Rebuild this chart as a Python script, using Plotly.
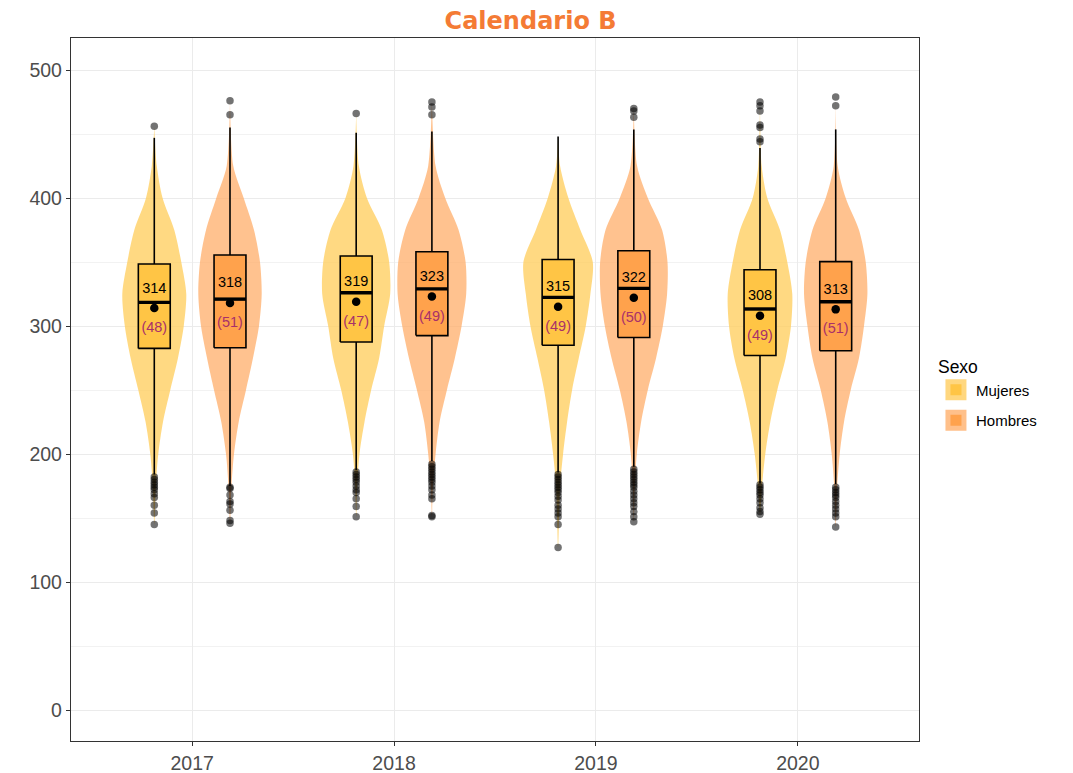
import plotly.graph_objects as go

years = ["2017", "2018", "2019", "2020"]
sexes = ["Mujeres", "Hombres"]

# order per sex: 2017, 2018, 2019, 2020
q1 = {"Mujeres": [282.5, 287.5, 285, 277], "Hombres": [283, 292.5, 291, 280.7]}
median = {"Mujeres": [318.5, 326, 322.4, 313.3], "Hombres": [321, 329, 329.4, 319]}
q3 = {"Mujeres": [348.4, 354.7, 352, 344], "Hombres": [355.5, 358, 358.8, 350.3]}
lo_whisk = {"Mujeres": [184, 187.5, 185.5, 177], "Hombres": [175, 194.5, 190, 176.5]}
hi_whisk = {"Mujeres": [447, 451, 448, 439], "Hombres": [455, 452, 453.6, 453.6]}
mean = {"Mujeres": [314, 319, 315, 308], "Hombres": [318, 323, 322, 313]}
sd = {"Mujeres": [48, 47, 49, 49], "Hombres": [51, 49, 50, 51]}

outliers = {
    "Mujeres": [
        [456, 182, 180, 178, 176, 174, 172, 169, 166, 160, 154, 145],
        [466, 186, 184, 182, 180, 178, 175, 172, 170, 165, 159, 151],
        [184, 182, 180, 178, 176, 174, 172, 170, 167, 164, 160, 157, 154, 151, 145, 127],
        [475, 472, 468, 457, 455, 446, 444, 176, 174, 172, 170, 168, 165, 162, 158, 155, 153],
    ],
    "Hombres": [
        [476, 465, 174, 173, 168, 163, 161, 156, 148, 146],
        [475, 471, 465, 192, 190, 188, 186, 184, 182, 180, 178, 175, 172, 168, 165, 152, 151],
        [470, 468, 463, 188, 186, 184, 182, 180, 178, 176, 174, 171, 168, 165, 162, 159, 155, 151, 147],
        [479, 472, 174, 172, 170, 168, 166, 163, 160, 157, 154, 151, 143],
    ],
}

# violin density profile (relative half widths) read at these levels
viol_levels = [175, 200, 225, 250, 275, 300, 325, 350, 375, 400, 425]
viol_width = {
    "Mujeres": [
        [1.5, 4, 8.7, 16, 23.7, 29.5, 32, 27, 20, 8.3, 2.5],
        [1, 3.3, 8.3, 15, 23, 28, 34, 33, 25.7, 10.7, 2.7],
        [2, 5, 9, 14, 20.7, 27.7, 32.3, 34.7, 22.3, 10.3, 2],
        [2, 5.3, 10.3, 17.3, 25.7, 31, 32.3, 27.3, 20, 7.3, 1.7],
    ],
    "Hombres": [
        [1.5, 4, 8.7, 16, 23, 29, 31.7, 30, 24, 13.7, 3.3],
        [1, 3.7, 7.7, 15, 23, 29.7, 34.3, 33.7, 26.7, 13.3, 3.7],
        [1, 3, 7.3, 14, 22.3, 29, 33.3, 33.7, 28.3, 14, 3.3],
        [1.5, 4, 8.3, 15, 23.3, 28.3, 31.7, 30, 23.3, 10, 2],
    ],
}

violin_col = {"Mujeres": "rgba(255,206,95,0.78)", "Hombres": "rgba(255,170,100,0.72)"}
box_col = {"Mujeres": "#FFC545", "Hombres": "#FFA24C"}
legend_edge = {"Mujeres": "#FFD77F", "Hombres": "#FFC08A"}
offset = {"Mujeres": -0.1875, "Hombres": 0.1875}
wscale = 1 / 202.0
box_w = 0.158
lab_font = "Liberation Sans, Arial"

fig = go.Figure()

# violins
for s in sexes:
    for i in range(len(years)):
        c = i + 1 + offset[s]
        vals = [min(outliers[s][i] + [lo_whisk[s][i]])] + viol_levels + [max(outliers[s][i] + [hi_whisk[s][i]])]
        ws = [0] + viol_width[s][i] + [0]
        xs = [c - w * wscale for w in ws] + [c + w * wscale for w in ws[::-1]]
        ys = vals + vals[::-1]
        fig.add_trace(go.Scatter(
            x=xs, y=ys, mode="lines", fill="toself", fillcolor=violin_col[s],
            line=dict(width=0, shape="spline", smoothing=0.8),
            showlegend=False, hoverinfo="skip"))

# boxplots (whiskers, boxes, medians)
for s in sexes:
    wx, wy = [], []
    for i in range(len(years)):
        c = i + 1 + offset[s]
        wx += [c, c, None, c, c, None]
        wy += [lo_whisk[s][i], q1[s][i], None, q3[s][i], hi_whisk[s][i], None]
    fig.add_trace(go.Scatter(x=wx, y=wy, mode="lines", line=dict(color="black", width=1.6),
                             showlegend=False, hoverinfo="skip"))
    for i in range(len(years)):
        c = i + 1 + offset[s]
        l, r = c - box_w / 2, c + box_w / 2
        fig.add_trace(go.Scatter(
            x=[l, r, r, l, l], y=[q1[s][i], q1[s][i], q3[s][i], q3[s][i], q1[s][i]],
            mode="lines", fill="toself", fillcolor=box_col[s],
            line=dict(color="black", width=1.6), showlegend=False, hoverinfo="skip"))
        fig.add_trace(go.Scatter(
            x=[l, r], y=[median[s][i], median[s][i]], mode="lines",
            line=dict(color="black", width=3.4), showlegend=False, hoverinfo="skip"))

# outliers
for s in sexes:
    ox, oy = [], []
    for i in range(len(years)):
        ox += [i + 1 + offset[s]] * len(outliers[s][i])
        oy += outliers[s][i]
    fig.add_trace(go.Scatter(x=ox, y=oy, mode="markers",
                             marker=dict(color="rgba(0,0,0,0.55)", size=7.5),
                             showlegend=False, hoverinfo="skip"))

# means and labels
for s in sexes:
    xpos = [i + 1 + offset[s] for i in range(len(years))]
    fig.add_trace(go.Scatter(x=xpos, y=mean[s], mode="markers",
                             marker=dict(color="black", size=8.5),
                             showlegend=False, hoverinfo="skip"))
    fig.add_trace(go.Scatter(x=xpos, y=[m + 15 for m in mean[s]], mode="text",
                             text=[str(m) for m in mean[s]],
                             textfont=dict(family=lab_font, size=14.5, color="black"),
                             showlegend=False, hoverinfo="skip"))
    fig.add_trace(go.Scatter(x=xpos, y=[m - 16 for m in mean[s]], mode="text",
                             text=["(%d)" % v for v in sd[s]],
                             textfont=dict(family=lab_font, size=14.5, color="#A8306A"),
                             showlegend=False, hoverinfo="skip"))

# legend keys
for s in sexes:
    fig.add_trace(go.Scatter(x=[None], y=[None], mode="markers", name=s, legendgroup=s,
                             marker=dict(symbol="square", size=18, color=box_col[s],
                                         line=dict(color=legend_edge[s], width=5))))

fig.update_layout(
    width=1073, height=773,
    margin=dict(l=63, r=162, t=30, b=40),
    plot_bgcolor="white", paper_bgcolor="white",
    font=dict(family=lab_font, color="#4D4D4D"),
    title=dict(text="<b>Calendario B</b>", x=0.487, xanchor="center", y=0.984, yanchor="middle",
               yref="container",
               font=dict(family="DejaVu Sans", size=24, color="#F47B35")),
    legend=dict(title=dict(text="Sexo", font=dict(size=17.5, color="black")),
                font=dict(size=15, color="black"),
                x=1.02, xanchor="left", y=0.494, yanchor="middle",
                tracegroupgap=8, itemsizing="trace"),
    showlegend=True,
)
fig.update_xaxes(
    range=[0.4, 4.6], tickvals=[1, 2, 3, 4], ticktext=years,
    showgrid=True, gridcolor="#EBEBEB", gridwidth=1.2,
    showline=True, linecolor="#333333", linewidth=1.3, mirror=True,
    ticks="outside", ticklen=4, tickcolor="#333333",
    tickfont=dict(size=19.5, color="#4D4D4D"), zeroline=False, automargin=False,
)
fig.update_yaxes(
    range=[-24.2, 525], tickvals=[0, 100, 200, 300, 400, 500],
    showgrid=True, gridcolor="#EBEBEB", gridwidth=1.2,
    minor=dict(tickvals=[50, 150, 250, 350, 450], showgrid=True, gridcolor="#F2F2F2", gridwidth=1),
    showline=True, linecolor="#333333", linewidth=1.3, mirror=True,
    ticks="outside", ticklen=4, tickcolor="#333333",
    tickfont=dict(size=19.5, color="#4D4D4D"), zeroline=False, automargin=False,
)

fig.write_html("out.html")
